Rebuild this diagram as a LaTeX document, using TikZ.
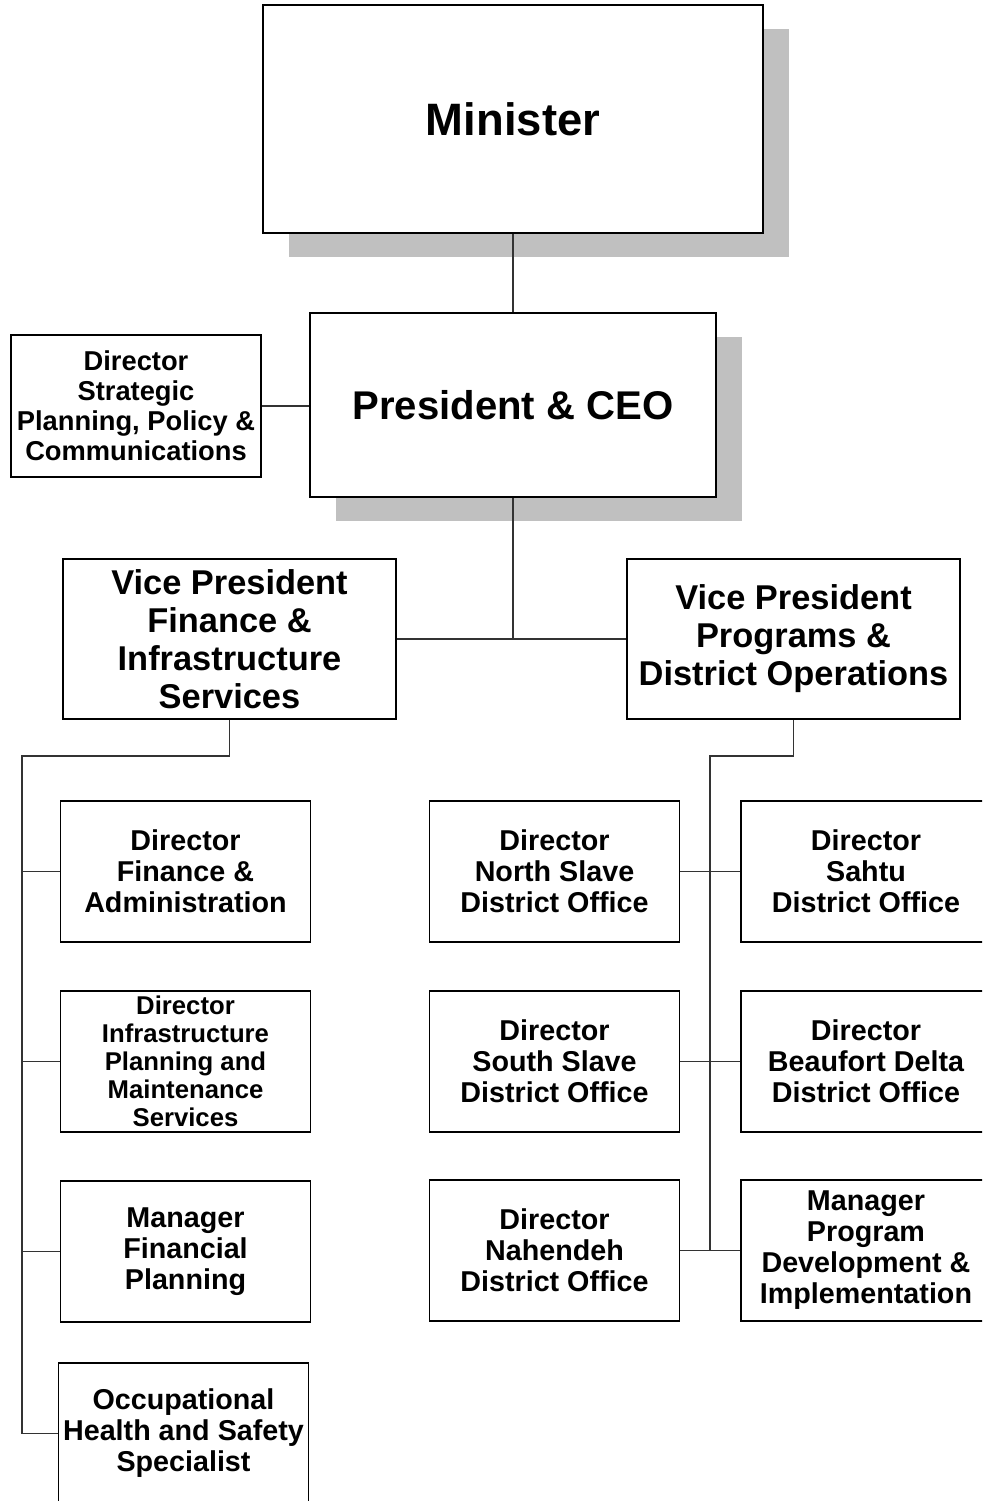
\documentclass[tikz,border=0pt]{standalone}
\usepackage{fontspec}
\setmainfont{Liberation Sans}
\usepackage{xcolor}
\usepackage{tikz}
\usetikzlibrary{shadows}
\definecolor{shadowgray}{HTML}{C0C0C0}
\definecolor{linkgray}{HTML}{333333}

\begin{document}
\begin{tikzpicture}[x=1pt, y=-1pt,
        box/.style={rectangle, draw, line width=1.8pt, fill=white, align=center, inner sep=0pt, minimum width=250pt, minimum height=141pt, font=\bfseries\fontsize{28.7}{31}\selectfont},
        smallbox/.style={box, font=\bfseries\fontsize{25.7}{28}\selectfont},
        vpbox/.style={box, minimum width=333pt, minimum height=160pt, font=\bfseries\fontsize{34.4}{38}\selectfont},
        topbox/.style={box, drop shadow={shadow xshift=26pt, shadow yshift=-24pt, fill=shadowgray, opacity=1}},
        link/.style={draw=linkgray, line width=1.1pt}]

    \useasboundingbox (0,0) rectangle (982,1501);
    \clip (0,0) rectangle (982,1501);

    \node (min) [topbox, minimum width=500pt, minimum height=228pt, font=\bfseries\fontsize{45.4}{50}\selectfont] at (513,119) {Minister};
    \node (pres) [topbox, minimum width=406pt, minimum height=184pt, font=\bfseries\fontsize{40.1}{44}\selectfont] at (513,405) {President \& CEO};
    \node (dsp) [box, minimum height=142pt, font=\bfseries\fontsize{27.3}{30}\selectfont] at (136,406) {Director\\Strategic\\Planning, Policy \&\\Communications};

    \node (vpf) [vpbox] at (229.5,639) {Vice President\\Finance \&\\Infrastructure\\Services};
    \node (vpp) [vpbox] at (793.5,639) {Vice President\\Programs \&\\District Operations};

    \node (dfa) [box] at (185.5,871.5) {Director\\Finance \&\\Administration};
    \node (dip) [smallbox] at (185.5,1061.5) {Director\\Infrastructure\\Planning and\\Maintenance\\Services};
    \node (mfp) [box] at (185.5,1251.5) {Manager\\Financial\\Planning};
    \node (ohs) [box] at (183.5,1433.5) {Occupational\\Health and Safety\\Specialist};

    \node (dns) [box] at (554.5,871.5) {Director\\North Slave\\District Office};
    \node (dss) [box] at (554.5,1061.5) {Director\\South Slave\\District Office};
    \node (dnd) [box] at (554.5,1250.5) {Director\\Nahendeh\\District Office};

    \node (dsd) [box] at (866,871.5) {Director\\Sahtu\\District Office};
    \node (dbd) [box] at (866,1061.5) {Director\\Beaufort Delta\\District Office};
    \node (mpd) [box] at (866,1250.5) {Manager\\Program\\Development \&\\Implementation};

    \coordinate (fbus) at (22,756);
    \coordinate (pbus) at (710,756);

    \draw[link] (min) -- (pres);
    \draw[link] (dsp.east) -- (dsp.east -| pres.west);
    \draw[link] (pres.south) -- (pres.south |- vpf.east);
    \draw[link] (vpf.east) -- (vpp.west);

    \draw[link] (vpf.south) |- (fbus) -- (fbus |- ohs.west) -- (ohs.west);
    \draw[link] (fbus |- dfa.west) -- (dfa.west);
    \draw[link] (fbus |- dip.west) -- (dip.west);
    \draw[link] (fbus |- mfp.west) -- (mfp.west);

    \draw[link] (vpp.south) |- (pbus) -- (pbus |- mpd.west);
    \draw[link] (dns.east) -- (dsd.west);
    \draw[link] (dss.east) -- (dbd.west);
    \draw[link] (dnd.east) -- (mpd.west);
\end{tikzpicture}
\end{document}
